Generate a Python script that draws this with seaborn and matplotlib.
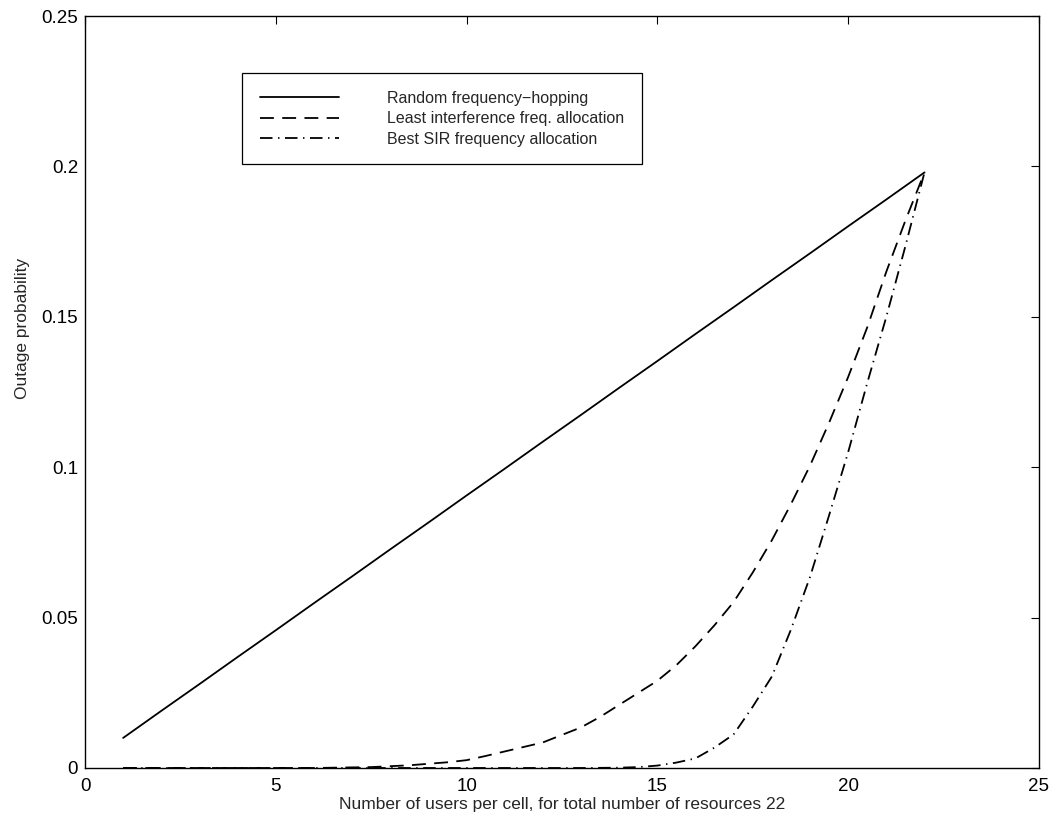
import numpy as np
import pandas as pd
import matplotlib
matplotlib.use("Agg")
import matplotlib.pyplot as plt
import seaborn as sns

# data
users_rfh = list(range(1, 23))
random_fh = [0.0100, 0.0190, 0.0279, 0.0369, 0.0458, 0.0548, 0.0637, 0.0727,
             0.0816, 0.0906, 0.0995, 0.1085, 0.1174, 0.1264, 0.1353, 0.1443,
             0.1532, 0.1622, 0.1711, 0.1801, 0.1890, 0.1980]

users_li = [1, 6, 7, 7.5, 8, 8.5, 9, 9.5, 10, 10.5, 11, 11.5, 12, 12.5, 13,
            13.5, 14, 14.5, 15, 15.5, 16, 16.5, 17, 17.5, 18, 18.5, 19, 19.5,
            20, 20.5, 21, 21.5, 22]
least_intf = [0.0, 0.0, 0.0002, 0.0003, 0.0006, 0.0009, 0.0014, 0.0019,
              0.0026, 0.0040, 0.0055, 0.0070, 0.0085, 0.0110, 0.0135, 0.0170,
              0.0210, 0.0250, 0.0290, 0.0342, 0.0405, 0.0475, 0.0552, 0.0650,
              0.0757, 0.0877, 0.1005, 0.1148, 0.1300, 0.1465, 0.1650, 0.1820,
              0.1980]

users_sir = [1, 13, 14, 14.5, 15, 15.5, 16, 16.5, 17, 17.5, 18, 18.5, 19,
             19.5, 20, 20.5, 21, 21.5, 22]
best_sir = [0.0, 0.0, 0.0001, 0.0003, 0.0008, 0.0018, 0.0032, 0.0068,
            0.0112, 0.0204, 0.0304, 0.0460, 0.0635, 0.0840, 0.1050, 0.1280,
            0.1500, 0.1735, 0.1980]

labels = ["Random frequency\u2212hopping",
          "Least interference freq. allocation",
          "Best SIR frequency allocation"]
styles = ["-", (0, (10, 6)), (0, (9, 4, 1, 4))]

x_ticks = [0, 5, 10, 15, 20, 25]
y_ticks = [0, 0.05, 0.1, 0.15, 0.2, 0.25]
y_tick_labels = ["0", "0.05", "0.1", "0.15", "0.2", "0.25"]

df = pd.concat([
    pd.DataFrame({"users": users_rfh, "outage": random_fh, "scheme": labels[0]}),
    pd.DataFrame({"users": users_li, "outage": least_intf, "scheme": labels[1]}),
    pd.DataFrame({"users": users_sir, "outage": best_sir, "scheme": labels[2]}),
], ignore_index=True)

sns.set_style("white")
plt.rcParams["font.family"] = ["Liberation Sans", "DejaVu Sans"]
plt.rcParams["lines.scale_dashes"] = False

fig = plt.figure(figsize=(10.52, 8.25), dpi=100)
ax = fig.add_axes([0.0808, 0.0691, 0.9068, 0.9115])

for lab, ls in zip(labels, styles):
    sns.lineplot(data=df[df["scheme"] == lab], x="users", y="outage",
                 color="black", linestyle=ls, linewidth=1.3, label=lab,
                 ax=ax, errorbar=None)

ax.set_xlim(0, 25)
ax.set_ylim(0, 0.25)
ax.set_xticks(x_ticks)
ax.set_xticklabels([str(t) for t in x_ticks])
ax.set_yticks(y_ticks)
ax.set_yticklabels(y_tick_labels)
ax.tick_params(direction="in", length=6, width=0.8, labelsize=13.5,
               top=True, right=True, pad=5, colors="black")
ax.tick_params(axis="x", pad=7)

for s in ax.spines.values():
    s.set_color("black")
    s.set_linewidth(1.0)
    s.set_visible(True)

ax.set_xlabel("Number of users per cell, for total number of resources 22",
              fontsize=12.5, labelpad=2)
ax.set_ylabel("Outage probability", fontsize=12.5)
ax.yaxis.set_label_coords(-0.058, 0.585)

leg = ax.legend(loc="upper left", bbox_to_anchor=(0.1646, 0.924),
                borderaxespad=0, frameon=True, fancybox=False, framealpha=1,
                edgecolor="black", fontsize=11.5, handlelength=5,
                handletextpad=3.0, labelspacing=0.35, borderpad=1.1)
leg.get_frame().set_linewidth(0.9)

fig.savefig("out.png", dpi=100)
